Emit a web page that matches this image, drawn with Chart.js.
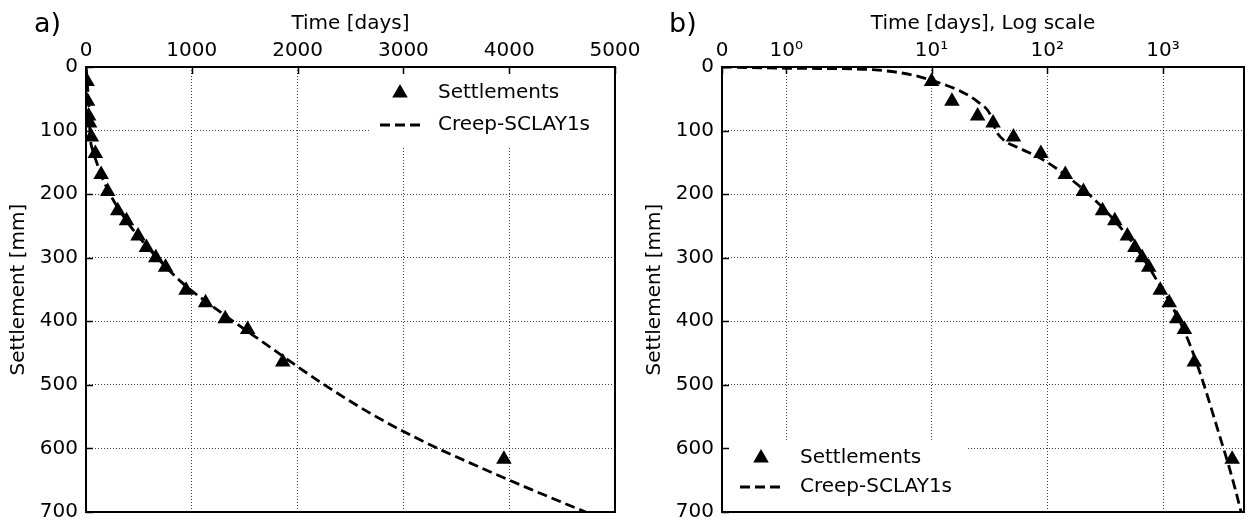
<!DOCTYPE html>
<html>
<head>
<meta charset="utf-8">
<script src="https://cdn.jsdelivr.net/npm/chart.js@4.4.1/dist/chart.umd.min.js"></script>
<style>
	body { margin: 0; background: #fff; width: 1253px; height: 532px; position: relative; overflow: hidden; }
	canvas { position: absolute; top: 0; }
	#chart_a { left: 0; }
	#chart_b { left: 636px; }
</style>
</head>
<body>
<canvas id="chart_a" width="660" height="532"></canvas>
<canvas id="chart_b" width="617" height="532"></canvas>
<script>
// |------------|
// |   Données  |
// |------------|

// mesures (triangles)
const measured_time = [10, 15, 25, 34, 51, 88, 143, 205, 300, 383, 492, 571, 660, 752, 946, 1130, 1316, 1528, 1860, 3950]
const measured_settlement = [23, 54, 77, 88, 110, 136, 169, 196, 226, 242, 266, 284, 300, 315, 351, 371, 396, 413, 464, 617]

// modèle Creep-SCLAY1s (tirets)
const model_time = [0, 1, 2, 3.5, 6.6, 9.6, 13, 17.8, 24.8, 32, 36, 42, 58, 92, 156, 247, 383, 580, 900, 1300, 1700, 2200, 2700, 3200, 3700, 4200, 4750]
const model_settlement = [0, 2, 3, 5, 12, 20, 28, 38, 54, 74, 100, 115, 128, 146, 175, 206, 242, 283, 338, 389, 436, 494, 546, 590, 628, 664, 702]

const linear_time_ticks = [0, 1000, 2000, 3000, 4000, 5000]
const log_time_ticks = [0, 1, 10, 100, 1000]
const settlement_ticks = [0, 100, 200, 300, 400, 500, 600, 700]

const series_labels = ['Settlements', 'Creep-SCLAY1s']


// |------------------|
// |   Chart.js       |
// |------------------|

Chart.defaults.font.family = '"DejaVu Sans", sans-serif'
Chart.defaults.font.size = 20
Chart.defaults.color = '#000'

const SUP = ['\u2070', '\u00b9', '\u00b2', '\u00b3', '\u2074']

// échelle symlog (linthresh = 2, linscale = 1), comme matplotlib
class SymlogScale extends Chart.LinearScale {
	static id = 'symlog'
	static defaults = {}

	tf(v) {
		const c = 2
		const adj = 1 / (1 - 1 / 10)
		const a = Math.abs(v)
		if (a <= c) return v * adj
		return Math.sign(v) * c * (adj + Math.log10(a / c))
	}
	itf(t) {
		const c = 2
		const adj = 1 / (1 - 1 / 10)
		if (Math.abs(t) <= c * adj) return t / adj
		return Math.sign(t) * c * Math.pow(10, Math.abs(t) / c - adj)
	}
	buildTicks() {
		return log_time_ticks.map(v => ({value: v}))
	}
	configure() {
		super.configure()
		this._tmin = this.tf(this.min)
		this._tmax = this.tf(this.max)
	}
	getPixelForValue(v) {
		return this.getPixelForDecimal((this.tf(v) - this._tmin) / (this._tmax - this._tmin))
	}
	getValueForPixel(p) {
		return this.itf(this._tmin + this.getDecimalForPixel(p) * (this._tmax - this._tmin))
	}
}
Chart.register(SymlogScale)

// cadre noir + petites graduations vers l'intérieur
const frame_plugin = {
	id: 'frame',
	afterDraw(chart) {
		const ctx = chart.ctx
		const a = chart.chartArea
		ctx.save()
		ctx.strokeStyle = '#000'
		ctx.lineWidth = 1.5
		const xs = chart.scales.x
		const ys = chart.scales.y
		ctx.beginPath()
		for (const t of xs.ticks) {
			const px = Math.round(xs.getPixelForValue(t.value)) + 0.5
			ctx.moveTo(px, a.top)
			ctx.lineTo(px, a.top + 7)
		}
		for (const t of ys.ticks) {
			const py = Math.round(ys.getPixelForValue(t.value)) + 0.5
			ctx.moveTo(a.left, py)
			ctx.lineTo(a.left + 7, py)
		}
		ctx.stroke()
		ctx.lineWidth = 2
		ctx.strokeRect(a.left, a.top, a.right - a.left, a.bottom - a.top)
		ctx.restore()
	}
}

// légende dans la zone du graphique, fond blanc
const inner_legend = {
	id: 'innerLegend',
	afterDatasetsDraw(chart, args, o) {
		const ctx = chart.ctx
		const ds = chart.data.datasets
		ctx.save()
		ctx.fillStyle = '#fff'
		ctx.fillRect(o.box[0], o.box[1], o.box[2], o.box[3])
		// triangle
		const r = 9
		const tx = o.markerX, ty = o.row1
		ctx.fillStyle = '#000'
		ctx.beginPath()
		ctx.moveTo(tx, ty - r)
		ctx.lineTo(tx + r * Math.sin(2 * Math.PI / 3), ty + r / 2)
		ctx.lineTo(tx - r * Math.sin(2 * Math.PI / 3), ty + r / 2)
		ctx.closePath()
		ctx.fill()
		// tirets
		ctx.strokeStyle = '#000'
		ctx.lineWidth = 2.8
		ctx.setLineDash([10, 5])
		ctx.beginPath()
		ctx.moveTo(o.dash[0], o.row2)
		ctx.lineTo(o.dash[1], o.row2)
		ctx.stroke()
		ctx.setLineDash([])
		// textes
		ctx.font = '20px "DejaVu Sans"'
		ctx.textBaseline = 'middle'
		ctx.textAlign = 'left'
		ctx.fillText(ds[0].label, o.textX, o.row1)
		ctx.fillText(ds[1].label, o.textX, o.row2)
		ctx.restore()
	}
}

// lettre du panneau : a) / b)
const panel_letter = {
	id: 'panelLetter',
	afterDraw(chart, args, o) {
		const ctx = chart.ctx
		ctx.save()
		ctx.font = '27px "DejaVu Sans"'
		ctx.fillStyle = '#000'
		ctx.textBaseline = 'alphabetic'
		ctx.fillText(o.text, o.x, o.y)
		ctx.restore()
	}
}

function make_datasets() {
	return [
		{
			label: series_labels[0],
			data: measured_time.map((t, i) => ({x: t, y: measured_settlement[i]})),
			showLine: false,
			pointStyle: 'triangle',
			pointRadius: 9,
			pointHoverRadius: 9,
			pointBackgroundColor: '#000',
			pointBorderWidth: 0,
			clip: 0
		},
		{
			label: series_labels[1],
			data: model_time.map((t, i) => ({x: t, y: model_settlement[i]})),
			showLine: true,
			borderColor: '#000',
			borderWidth: 2.8,
			borderDash: [10, 5],
			pointRadius: 0,
			cubicInterpolationMode: 'monotone',
			clip: 0
		}
	]
}

const grid_opts = {color: 'rgba(0,0,0,0.75)', lineWidth: 1, drawTicks: false}
const border_opts = {display: false, dash: [1, 2]}

function y_axis() {
	return {
		type: 'linear',
		position: 'left',
		reverse: true,
		min: 0,
		max: 700,
		afterFit: (s) => { s.width = 86 },
		afterBuildTicks: (s) => { s.ticks = settlement_ticks.map(v => ({value: v})) },
		ticks: {padding: 8, autoSkip: false, callback: (v) => String(v)},
		grid: grid_opts,
		border: border_opts,
		title: {display: true, text: 'Settlement [mm]', padding: {top: 7, bottom: 0}}
	}
}

function get_config(x_axis, legend, letter, pad_right) {
	return {
		type: 'scatter',
		data: {datasets: make_datasets()},
		options: {
			responsive: false,
			animation: false,
			events: [],
			layout: {padding: {left: 0, top: 0, right: pad_right, bottom: 12}},
			scales: {x: x_axis, y: y_axis()},
			plugins: {
				legend: {display: false},
				tooltip: {enabled: false},
				innerLegend: legend,
				panelLetter: letter
			}
		},
		plugins: [inner_legend, frame_plugin, panel_letter]
	}
}

// Panneau a) : temps linéaire
new Chart(document.getElementById('chart_a'), get_config(
	{
		type: 'linear',
		position: 'top',
		min: 0,
		max: 5000,
		afterFit: (s) => { s.height = 67 },
		afterBuildTicks: (s) => { s.ticks = linear_time_ticks.map(v => ({value: v})) },
		ticks: {padding: 4, autoSkip: false, maxRotation: 0, callback: (v) => String(v)},
		grid: grid_opts,
		border: border_opts,
		title: {display: true, text: 'Time [days]', padding: {top: 12, bottom: 0}}
	},
	{box: [370, 70, 243, 78], markerX: 400, textX: 438, dash: [380, 421], row1: 93, row2: 125},
	{text: 'a)', x: 34, y: 32},
	45
))

// Panneau b) : temps en échelle symlog
new Chart(document.getElementById('chart_b'), get_config(
	{
		type: 'symlog',
		position: 'top',
		min: 0,
		max: 5000,
		afterFit: (s) => { s.height = 67 },
		ticks: {
			padding: 4, autoSkip: false, maxRotation: 0,
			callback: (v) => v === 0 ? '0' : '10' + SUP[Math.round(Math.log10(v))]
		},
		grid: grid_opts,
		border: border_opts,
		title: {display: true, text: 'Time [days], Log scale', padding: {top: 12, bottom: 0}}
	},
	{box: [88, 440, 243, 78], markerX: 125, textX: 164, dash: [104, 147], row1: 458, row2: 487},
	{text: 'b)', x: 33, y: 32},
	3
))
</script>
</body>
</html>
